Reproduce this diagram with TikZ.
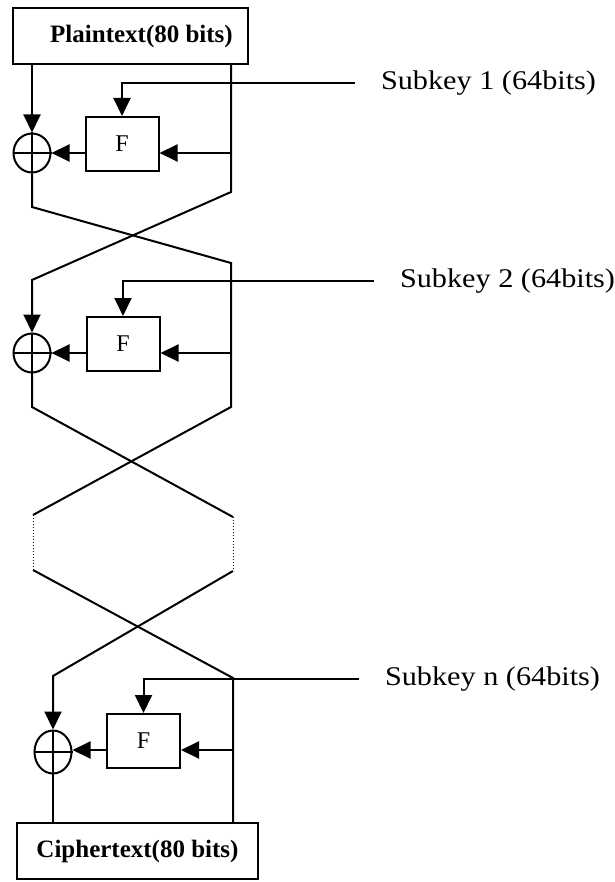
\documentclass[tikz,border=0pt]{standalone}
\usepackage{fontspec}
\setmainfont{Liberation Serif}
\usetikzlibrary{arrows.meta,shapes.geometric}

\begin{document}
\begin{tikzpicture}[x=1pt,y=-1pt,
  line width=2pt,
  tip/.style={-{Triangle[length=18pt,width=17pt]}},
  textbox/.style={draw, rectangle, inner sep=0pt, minimum height=56pt,
    font=\fontsize{25}{28}\selectfont\bfseries},
  fbox/.style={draw, rectangle, inner sep=0pt, minimum width=73pt, minimum height=54pt,
    font=\fontsize{24}{26}\selectfont},
  xor/.style={draw, ellipse, inner sep=0pt, minimum width=37pt, minimum height=39pt},
  keylabel/.style={anchor=west, inner xsep=25pt, inner ysep=0pt,
    font=\fontsize{27}{30}\selectfont}]
\useasboundingbox (0,0) rectangle (614,882);

% input and output blocks
\node [textbox, minimum width=235pt] (plain) at (130.5,36) {\hspace*{22pt}Plaintext(80 bits)};
\node [textbox, minimum width=241pt] (cipher) at (137.5,851) {Ciphertext(80 bits)};

% round functions and xors
\node [fbox] (F1) at (122,144) {F};
\node [fbox] (F2) at (123,344) {F};
\node [fbox] (F3) at (143.5,741) {F};
\node [xor] (xor1) at (32,153) {};
\node [xor] (xor2) at (32,353) {};
\node [xor, minimum height=43pt] (xor3) at (53,752) {};
\foreach \x in {xor1,xor2,xor3}
  \draw (\x.west) -- (\x.east) (\x.north) -- (\x.south);

% subkeys
\node [keylabel] (key1) at (355,83) {\scalebox{1.12}[1]{Subkey 1 (64bits)}};
\node [keylabel] (key2) at (374,281) {\scalebox{1.12}[1]{Subkey 2 (64bits)}};
\node [keylabel] (key3) at (359,679) {\scalebox{1.12}[1]{Subkey n (64bits)}};
\draw [tip] (key1.west) -| (F1.north);
\draw [tip] (key2.west) -| (F2.north);
\draw [tip] (key3.west) -| (F3.north);

% bends of the two halves
\coordinate (r1) at (231,192);
\coordinate (l1) at (32,207);
\coordinate (l2) at (32,280);
\coordinate (r2) at (231,263);
\coordinate (r3) at (231,407);
\coordinate (l3) at (32,407);
\coordinate (d1) at (33,515);
\coordinate (d2) at (233,517);
\coordinate (d3) at (33,570);
\coordinate (d4) at (233,571);
\coordinate (l5) at (53,676);
\coordinate (r5) at (233,678);

% round 1
\draw [tip] (plain.south -| xor1) -- (xor1.north);
\draw [tip] (plain.south -| r1) -- (r1) -- (l2) -- (xor2.north);
\draw [tip] (r1 |- xor1) -- (F1.east |- xor1);
\draw [tip] (F1.west |- xor1) -- (xor1.east);
\draw (xor1.south) -- (l1) -- (r2) -- (r3) -- (d1);

% round 2
\draw [tip] (r2 |- xor2) -- (F2.east |- xor2);
\draw [tip] (F2.west |- xor2) -- (xor2.east);
\draw (xor2.south) -- (l3) -- (d2);

% skipped rounds
\draw [line width=1pt, dotted] (d1) -- (d3) (d2) -- (d4);

% round n
\draw [tip] (d4) -- (l5) -- (xor3.north);
\draw (d3) -- (r5) -- (cipher.north -| r5);
\draw [tip] (r5 |- 0,750) -- (F3.east |- 0,750);
\draw [tip] (F3.west |- 0,750) -- (xor3.east |- 0,750);
\draw (xor3.south) -- (cipher.north -| xor3);
\end{tikzpicture}
\end{document}
